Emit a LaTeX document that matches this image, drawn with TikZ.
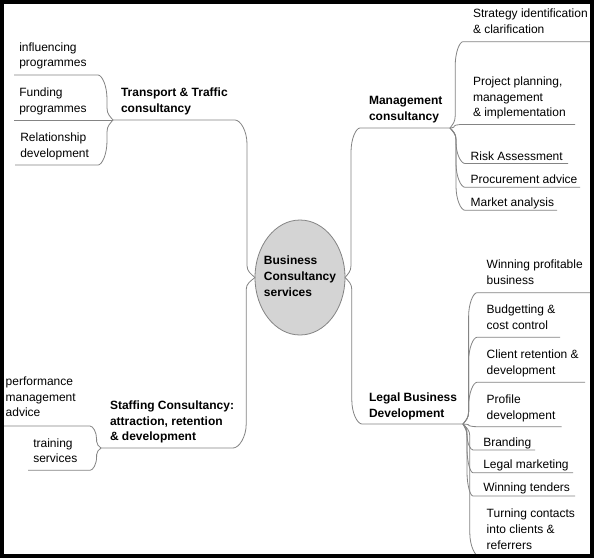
\documentclass[tikz,border=0pt]{standalone}
\usepackage{fontspec}
\setmainfont{Liberation Sans}
\usetikzlibrary{calc,shapes.geometric}
\definecolor{linegray}{RGB}{132,132,132}
\definecolor{rootfill}{RGB}{212,212,212}
\definecolor{rootline}{RGB}{132,132,132}
\newcommand{\tbox}[3]{\hspace*{#1pt}\makebox[#2pt][l]{\begin{tabular}[b]{@{}l@{}}#3\end{tabular}}}
\begin{document}
\begin{tikzpicture}[x=1pt,y=-1pt,
  conn/.style={draw=linegray,line width=0.8pt},
  leaf/.style={inner xsep=0pt,text depth=0pt,outer sep=0pt,anchor=south west,font=\fontsize{12}{15.7}\selectfont},
  topic/.style={leaf,font=\fontsize{12}{15.7}\selectfont\bfseries},
  mmcurve/.style={to path={
    let \p1=(\tikztostart), \p2=(\tikztotarget),
        \n1={0.4*((\x2)-(\x1))},
        \n2={((\y2)-(\y1))/max(abs((\y2)-(\y1)),0.01)},
        \n3={min(0.3*abs((\y2)-(\y1)),12)},
        \n4={min(0.6*abs((\y2)-(\y1)),24)}
    in .. controls ({(\x1)+0.5*(\n1)},{(\y1)+0.3*(\n2)*(\n3)}) and ({(\x1)+(\n1)},{(\y1)+0.5*(\n2)*(\n3)}) .. ({(\x1)+(\n1)},{(\y1)+(\n2)*(\n3)})
       -- ({(\x1)+(\n1)},{(\y2)-(\n2)*(\n4)})
       .. controls ({(\x1)+(\n1)},{(\y2)-0.45*(\n2)*(\n4)}) and ({(\x2)-0.45*((\x2)-(\x1)-(\n1))},{\y2}) .. (\x2,\y2)
  }}]
\useasboundingbox (0,0) rectangle (594,558);
\fill[white] (0,0) rectangle (594,558);

% root
\node[ellipse,draw=rootline,fill=rootfill,line width=0.8pt,minimum width=90pt,minimum height=115pt,inner sep=0pt,outer sep=0pt,font=\fontsize{12}{16.2}\selectfont\bfseries] (root) at (300,277.5)
  {\makebox[0pt]{\raisebox{-1pt}{\begin{tabular}{@{}l@{}}Business\\Consultancy\\services\end{tabular}}}};

% main topics
\node[topic,inner ysep=7.5pt] (tr) at (113,120) {\tbox{8}{114}{Transport \& Traffic\\consultancy}};
\node[topic,inner ysep=8pt] (mg) at (360,128) {\tbox{9}{81}{Management\\consultancy}};
\node[topic,inner ysep=6.7pt] (lg) at (362,424) {\tbox{7}{94}{Legal Business\\Development}};
\node[topic,inner ysep=7.3pt] (st) at (101,448) {\tbox{9}{123}{Staffing Consultancy:\\attraction, retention\\\& development}};

% transport children
\node[leaf,inner ysep=8.3pt] (t1) at (14,75) {\tbox{5.3}{78.7}{influencing\\programmes}};
\node[leaf,inner ysep=7.7pt] (t2) at (14,120) {\tbox{5.3}{93.7}{Funding\\programmes}};
\node[leaf,inner ysep=7.7pt] (t3) at (15,165) {\tbox{5.3}{77.7}{Relationship\\development}};

% management children
\node[leaf,inner ysep=8.4pt] (m1) at (463,41.7) {\tbox{10}{117}{Strategy identification\\\& clarification}};
\node[leaf,inner ysep=7.8pt] (m2) at (460,124.5) {\tbox{13}{102}{Project planning,\\management\\\& implementation}};
\node[leaf,inner ysep=2.8pt] (m3) at (465,163.5) {\tbox{5.7}{97.3}{Risk Assessment}};
\node[leaf,inner ysep=4pt] (m4) at (465,187.3) {\tbox{5.7}{109.3}{Procurement advice}};
\node[leaf,inner ysep=3.6pt] (m5) at (465,210.3) {\tbox{5.7}{86.3}{Market analysis}};

% legal children
\node[leaf,inner ysep=8.7pt] (l1) at (477,292.7) {\tbox{9.7}{103.3}{Winning profitable\\business}};
\node[leaf,inner ysep=8pt] (l2) at (477,337.3) {\tbox{9.7}{73.3}{Budgetting \&\\cost control}};
\node[leaf,inner ysep=8.3pt] (l3) at (477,382.3) {\tbox{9.7}{98.3}{Client retention \&\\development}};
\node[leaf,inner ysep=7.7pt] (l4) at (477,426.7) {\tbox{9.7}{75}{Profile\\development}};
\node[leaf,inner ysep=4pt] (l5) at (473,450) {\tbox{10.3}{51.7}{Branding}};
\node[leaf,inner ysep=4.4pt] (l6) at (473,472.7) {\tbox{10.3}{89.7}{Legal marketing}};
\node[leaf,inner ysep=4.3pt] (l7) at (473,496) {\tbox{10.3}{91.7}{Winning tenders}};
\node[leaf,inner ysep=7.7pt] (l8) at (480,557) {\tbox{6.7}{93.3}{Turning contacts\\into clients \&\\referrers}};

% staffing children
\node[leaf,inner ysep=9.3pt] (s1) at (-5,426) {\tbox{10.7}{84.3}{performance\\management\\advice}};
\node[leaf,inner ysep=7.6pt] (s2) at (28,470.3) {\tbox{5.3}{56.7}{training\\services}};

% connectors
\draw[conn] (root.west) to[mmcurve] (tr.south east) -- (tr.south west);
\draw[conn] (root.west) to[mmcurve] (st.south east) -- (st.south west);
\draw[conn] (root.east) to[mmcurve] (mg.south west) -- (mg.south east);
\draw[conn] (root.east) to[mmcurve] (lg.south west) -- (lg.south east);

\draw[conn] (tr.south west) to[mmcurve] (t1.south east) -- (t1.south west);
\draw[conn] (tr.south west) -- (t2.south west);
\draw[conn] (tr.south west) to[mmcurve] (t3.south east) -- (t3.south west);

\foreach \k in {m1,m2,m3,m4,m5}
  \draw[conn] (mg.south east) to[mmcurve] (\k.south west) -- (\k.south east);
\foreach \k in {l1,l2,l3,l4,l5,l6,l7,l8}
  \draw[conn] (lg.south east) to[mmcurve] (\k.south west) -- (\k.south east);
\foreach \k in {s1,s2}
  \draw[conn] (st.south west) to[mmcurve] (\k.south east) -- (\k.south west);

% frame
\draw[line width=4pt] (2,1.75) rectangle (591.75,556);
\end{tikzpicture}
\end{document}
